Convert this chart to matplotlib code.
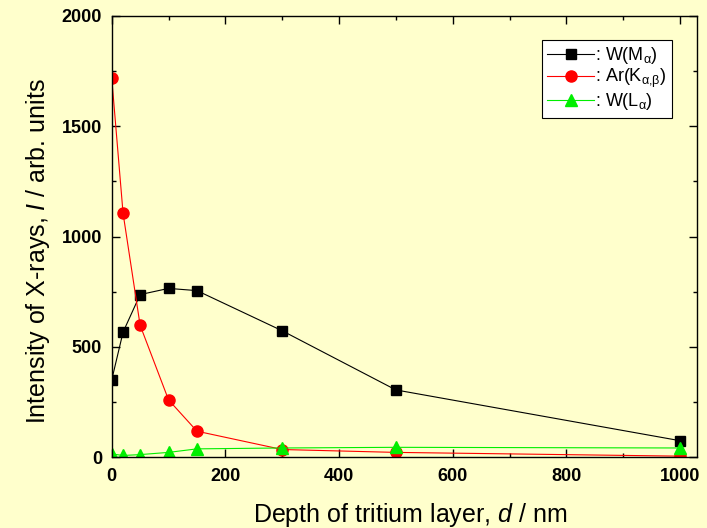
import numpy as np
import matplotlib
matplotlib.use("Agg")
import matplotlib.pyplot as plt
from matplotlib.ticker import MultipleLocator

plt.rcParams['font.family'] = ['Liberation Sans', 'DejaVu Sans']
plt.rcParams['mathtext.fontset'] = 'custom'
plt.rcParams['mathtext.rm'] = 'Liberation Sans'
plt.rcParams['mathtext.it'] = 'Liberation Sans:italic'

# Data
depth = [0, 20, 50, 100, 150, 300, 500, 1000]
w_ma = [350, 567, 737, 765, 755, 573, 305, 75]
ar_kab = [1720, 1105, 598, 260, 118, 35, 22, 5]
w_la = [15, 8, 12, 22, 38, 42, 45, 42]

bg = '#FFFFCC'
fig = plt.figure(figsize=(7.07, 5.28), dpi=100, facecolor=bg)
ax = fig.add_axes([0.158, 0.134, 0.828, 0.836], facecolor=bg)

ax.plot(depth, w_ma, color='black', lw=0.8, marker='s', ms=7, label=r': W(M$_{\mathrm{α}}$)')
ax.plot(depth, ar_kab, color='red', lw=0.8, marker='o', ms=8, label=r': Ar(K$_{\mathrm{α{,}β}}$)')
ax.plot(depth, w_la, color='#00EE00', lw=0.8, marker='^', ms=8.5, label=r': W(L$_{\mathrm{α}}$)')

ax.set_xlim(0, 1030)
ax.set_ylim(0, 2000)
ax.xaxis.set_major_locator(MultipleLocator(200))
ax.xaxis.set_minor_locator(MultipleLocator(100))
ax.yaxis.set_major_locator(MultipleLocator(500))
ax.yaxis.set_minor_locator(MultipleLocator(250))
ax.tick_params(which='both', direction='in', top=True, right=True, width=1.0)
ax.tick_params(which='major', length=6, labelsize=13)
ax.tick_params(axis='x', which='major', pad=8)
ax.tick_params(axis='y', which='major', pad=7)
ax.tick_params(which='minor', length=3)
for lab in ax.get_xticklabels() + ax.get_yticklabels():
    lab.set_fontweight('bold')
for s in ax.spines.values():
    s.set_linewidth(1.0)

ax.set_xlabel(r'Depth of tritium layer, $d$ / nm', fontsize=18, labelpad=11)
ax.set_ylabel(r'Intensity of X-rays, $I$ / arb. units', fontsize=18, labelpad=7)
ax.yaxis.label.set_y(0.466)
ax.xaxis.label.set_x(0.51)

leg = ax.legend(loc='upper right', bbox_to_anchor=(0.957, 0.946), fontsize=13,
                frameon=True, fancybox=False, edgecolor='black', facecolor='white',
                handlelength=2.6, handletextpad=0.05, labelspacing=0.05,
                borderpad=0.3, borderaxespad=0.0, framealpha=1)
leg.get_frame().set_linewidth(0.8)

fig.savefig('out.png', dpi=100, facecolor=bg)
